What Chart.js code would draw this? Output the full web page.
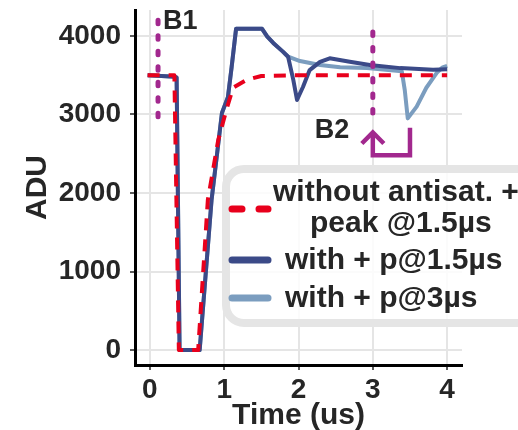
<!DOCTYPE html>
<html>
<head>
<meta charset="utf-8">
<script src="https://cdn.jsdelivr.net/npm/chart.js@4/dist/chart.umd.min.js"></script>
<style>
  html, body { margin: 0; padding: 0; background: #fff; }
  #wrap { width: 518px; height: 430px; }
</style>
</head>
<body>
<div id="wrap"><canvas id="chart"></canvas></div>
<script>
// values
const timeNoAntisat = [-0.03, 0.33, 0.39, 0.65, 0.78, 0.92, 1.03, 1.12, 1.3, 1.5, 2.0, 4.0];
const aduNoAntisat  = [3500, 3500, 0, 0, 1910, 2675, 3060, 3340, 3440, 3490, 3500, 3500];

const timeP15 = [-0.03, 0.34, 0.36, 0.4, 0.67, 0.83, 0.97, 1.05, 1.1, 1.16, 1.51, 1.58, 1.66, 1.79, 1.86, 1.93, 1.98, 2.06, 2.15, 2.29, 2.42, 2.69, 2.96, 3.37, 3.81, 4.0];
const aduP15  = [3500, 3480, 3470, 0, 0, 1910, 3020, 3220, 3600, 4090, 4090, 3990, 3910, 3800, 3735, 3440, 3185, 3350, 3565, 3670, 3715, 3670, 3630, 3590, 3570, 3575];

const timeP3 = [-0.03, 0.34, 0.36, 0.4, 0.67, 0.83, 0.97, 1.05, 1.1, 1.16, 1.51, 1.58, 1.66, 1.79, 1.86, 2.02, 2.29, 2.56, 2.92, 3.32, 3.39, 3.43, 3.47, 3.59, 3.72, 3.86, 3.94, 4.0];
const aduP3  = [3500, 3480, 3470, 0, 0, 1910, 3020, 3220, 3600, 4090, 4090, 3990, 3910, 3800, 3735, 3680, 3630, 3600, 3590, 3555, 3550, 3310, 2950, 3100, 3340, 3530, 3600, 3620];

const xTickValues = [0, 1, 2, 3, 4];
const yTickValues = [0, 1000, 2000, 3000, 4000];

const seriesLabels = [['without antisat. +', 'peak @1.5µs'], ['with + p@1.5µs'], ['with + p@3µs']];
const seriesColors = ['#e8001c', '#3b4a88', '#7b9dbf'];

// annotation markers (data units)
const markerB1 = {x: 0.11, top: 4200, bottom: 2870};
const markerB2 = {x: 3.0, top: 4050, arrowTip: 2770, bracketX: 3.5, bracketTop: 2830, bracketBottom: 2480};

const FONT = "'Liberation Sans', Arial, sans-serif";
const TEXT = '#262626';
const PURPLE = '#a2288e';

const toPoints = (xs, ys) => xs.map((x, i) => ({x, y: ys[i]}));

const annotations = {
    id: 'annotations',
    afterDatasetsDraw(chart) {
        const {ctx, scales: {x, y}} = chart;
        ctx.save();
        ctx.strokeStyle = PURPLE;
        ctx.lineWidth = 5;
        ctx.lineCap = 'round';
        ctx.setLineDash([3.5, 12]);
        [[markerB1.x, markerB1.top, markerB1.bottom], [markerB2.x, markerB2.top, markerB2.arrowTip + 120]].forEach(([vx, t, b]) => {
            ctx.beginPath();
            ctx.moveTo(x.getPixelForValue(vx), y.getPixelForValue(t));
            ctx.lineTo(x.getPixelForValue(vx), y.getPixelForValue(b));
            ctx.stroke();
        });
        // B2 bracket arrow
        ctx.setLineDash([]);
        ctx.lineCap = 'butt';
        ctx.lineJoin = 'miter';
        ctx.lineWidth = 4.5;
        const ax = x.getPixelForValue(markerB2.x);
        const bx = x.getPixelForValue(markerB2.bracketX);
        const tipY = y.getPixelForValue(markerB2.arrowTip);
        ctx.beginPath();
        ctx.moveTo(bx, y.getPixelForValue(markerB2.bracketTop));
        ctx.lineTo(bx, y.getPixelForValue(markerB2.bracketBottom));
        ctx.lineTo(ax, y.getPixelForValue(markerB2.bracketBottom));
        ctx.lineTo(ax, tipY);
        ctx.stroke();
        ctx.beginPath();
        ctx.moveTo(ax - 11, tipY + 11);
        ctx.lineTo(ax, tipY);
        ctx.lineTo(ax + 11, tipY + 11);
        ctx.stroke();

        ctx.fillStyle = TEXT;
        ctx.font = `bold 27px ${FONT}`;
        ctx.textBaseline = 'middle';
        ctx.textAlign = 'left';
        ctx.fillText('B1', x.getPixelForValue(markerB1.x) + 5, y.getPixelForValue(4185));
        ctx.fillText('B2', x.getPixelForValue(2.22), y.getPixelForValue(2800));
        ctx.restore();
    }
};

const boxLegend = {
    id: 'boxLegend',
    afterDraw(chart) {
        const ctx = chart.ctx;
        ctx.save();
        ctx.beginPath();
        ctx.roundRect(226, 169, 320, 154, 18);
        ctx.fillStyle = 'rgba(255,255,255,0.85)';
        ctx.fill();
        ctx.lineWidth = 8;
        ctx.strokeStyle = '#e5e5e5';
        ctx.stroke();

        const rows = [209, 260, 298];
        ctx.lineCap = 'round';
        ctx.lineWidth = 7;
        rows.forEach((ry, i) => {
            ctx.strokeStyle = seriesColors[i];
            ctx.setLineDash(i === 0 ? [10, 17] : []);
            ctx.beginPath();
            ctx.moveTo(232, ry);
            ctx.lineTo(268, ry);
            ctx.stroke();
        });
        ctx.setLineDash([]);
        ctx.fillStyle = TEXT;
        ctx.font = `bold 30px ${FONT}`;
        ctx.textBaseline = 'middle';
        ctx.textAlign = 'left';
        ctx.fillText(seriesLabels[0][0], 273, 193);
        ctx.fillText(seriesLabels[0][1], 310, 224);
        ctx.fillText(seriesLabels[1][0], 285, 261);
        ctx.fillText(seriesLabels[2][0], 285, 299);
        ctx.restore();
    }
};

const setTicks = values => scale => { scale.ticks = values.map(value => ({value})); };
const tickFont = {family: FONT, size: 28, weight: 'bold'};
const titleFont = {family: FONT, size: 30, weight: 'bold'};

new Chart(document.getElementById('chart'), {
    type: 'line',
    data: {
        datasets: [
            {label: seriesLabels[0].join(' '), data: toPoints(timeNoAntisat, aduNoAntisat), borderColor: seriesColors[0], borderWidth: 4, borderDash: [12, 9]},
            {label: seriesLabels[1][0], data: toPoints(timeP15, aduP15), borderColor: seriesColors[1], borderWidth: 4},
            {label: seriesLabels[2][0], data: toPoints(timeP3, aduP3), borderColor: seriesColors[2], borderWidth: 4}
        ]
    },
    options: {
        responsive: true,
        maintainAspectRatio: false,
        animation: false,
        elements: {point: {radius: 0}, line: {tension: 0, borderJoinStyle: 'round'}},
        layout: {padding: {top: 10, right: 56, left: 0, bottom: 0}},
        plugins: {legend: {display: false}, tooltip: {enabled: false}},
        scales: {
            x: {
                type: 'linear',
                min: -0.2,
                max: 4.2,
                afterBuildTicks: setTicks(xTickValues),
                afterFit: s => { s.height = 65; s.paddingLeft = 0; s.paddingRight = 0; },
                ticks: {color: TEXT, padding: 3, callback: v => String(v), font: tickFont},
                grid: {color: '#e5e5e5', lineWidth: 2, tickLength: 5, tickColor: TEXT, tickWidth: 1.5},
                border: {color: '#000', width: 3},
                title: {display: true, text: 'Time (us)', color: TEXT, padding: {top: 0, bottom: -4}, font: titleFont}
            },
            y: {
                min: -190,
                max: 4330,
                afterBuildTicks: setTicks(yTickValues),
                afterFit: s => { s.width = 135; s.paddingTop = 0; s.paddingBottom = 0; },
                ticks: {color: TEXT, padding: 9, callback: v => String(v), font: tickFont},
                grid: {color: '#e5e5e5', lineWidth: 2, tickLength: 5, tickColor: TEXT, tickWidth: 1.5},
                border: {color: '#000', width: 3},
                title: {display: true, text: 'ADU', color: TEXT, padding: {top: 20, bottom: 0}, font: titleFont}
            }
        }
    },
    plugins: [annotations, boxLegend]
});
</script>
</body>
</html>
